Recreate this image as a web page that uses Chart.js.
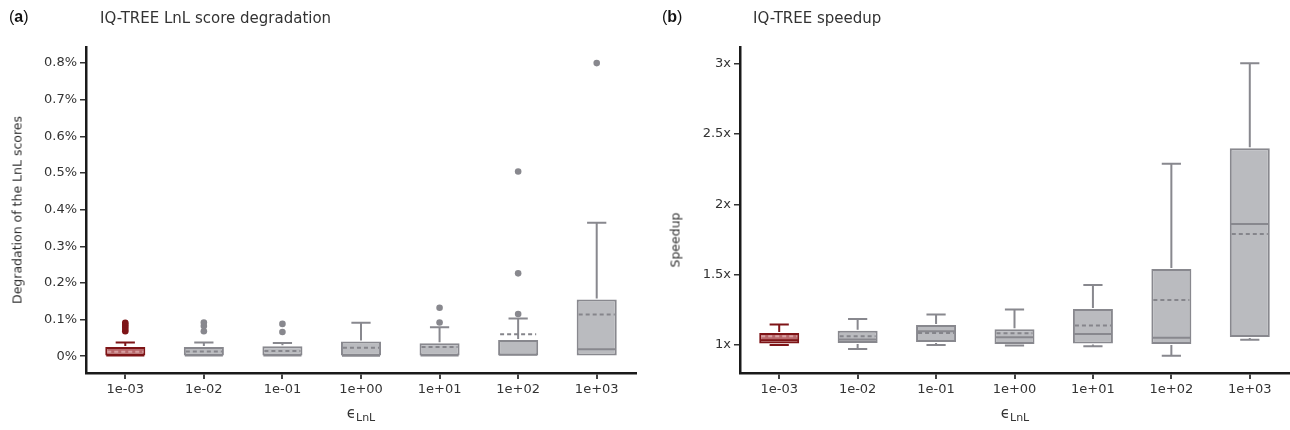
<!DOCTYPE html>
<html>
<head>
<meta charset="utf-8">
<script src="https://cdn.jsdelivr.net/npm/chart.js@4"></script>
<style>
  html, body { margin:0; padding:0; background:#fff; }
  body { width:1290px; height:430px; position:relative; overflow:hidden; font-family:"DejaVu Sans", Verdana, sans-serif; color:#333; }
  canvas { position:absolute; top:0; }
  .t { position:absolute; white-space:nowrap; }
  .panel { font-family:"Liberation Sans", Arial, sans-serif; font-size:16px; color:#111; top:8px; }
  .title { font-size:15px; top:9px; color:#333; }
  .ytitle { font-size:12.5px; transform:translate(-50%,-50%) rotate(-90deg); color:#333; font-weight:normal; }
  .xtitle { font-size:15px; transform:translate(-50%,-50%); color:#333; }
  .xtitle sub { font-size:11px; vertical-align:-3px; }
</style>
</head>
<body>
<canvas id="ca" width="645" height="430" style="left:0"></canvas>
<canvas id="cb" width="645" height="430" style="left:645px"></canvas>

<div class="t panel" style="left:9px">(<b>a</b>)</div>
<div class="t title" style="left:100px">IQ-TREE LnL score degradation</div>
<div class="t panel" style="left:662px">(<b>b</b>)</div>
<div class="t title" style="left:753px">IQ-TREE speedup</div>
<div class="t ytitle" style="left:17px; top:210px">Degradation of the LnL scores</div>
<div class="t ytitle" style="left:675px; top:240px">Speedup</div>
<div class="t xtitle" style="left:361px; top:414px">ϵ<sub>LnL</sub></div>
<div class="t xtitle" style="left:1015px; top:414px">ϵ<sub>LnL</sub></div>

<script>
// ---------- data ----------
const categories = ['1e-03','1e-02','1e-01','1e+00','1e+01','1e+02','1e+03'];

// Panel (a): degradation of LnL scores, in percent
const degQ1     = [0, 0, 0, 0, 0, 0, 0];
const degMedian = [0.002, 0.002, 0.002, 0.001, 0.002, 0.004, 0.019];
const degQ3     = [0.025, 0.025, 0.027, 0.040, 0.035, 0.044, 0.155];
const degMean   = [0.012, 0.013, 0.014, 0.023, 0.025, 0.060, 0.114];
const degLow    = [0, 0, 0, 0, 0, 0, 0];
const degHigh   = [0.037, 0.037, 0.036, 0.091, 0.079, 0.103, 0.364];
const degOutliers = [
  [0.068, 0.074, 0.080, 0.086, 0.091],
  [0.068, 0.082, 0.092],
  [0.066, 0.088],
  [],
  [0.092, 0.132],
  [0.115, 0.226, 0.504],
  [0.800]
];
const degTicks = [0, 0.1, 0.2, 0.3, 0.4, 0.5, 0.6, 0.7, 0.8];
const degTickLabels = ['0%', '0.1%', '0.2%', '0.3%', '0.4%', '0.5%', '0.6%', '0.7%', '0.8%'];

// Panel (b): speedup
const spQ1     = [1.010, 1.014, 1.020, 1.007, 1.010, 1.007, 1.057];
const spMedian = [1.033, 1.038, 1.097, 1.055, 1.078, 1.050, 1.860];
const spQ3     = [1.085, 1.100, 1.142, 1.112, 1.256, 1.541, 2.400];
const spMean   = [1.062, 1.062, 1.085, 1.083, 1.138, 1.320, 1.789];
const spLow    = [1.000, 0.970, 1.000, 0.996, 0.990, 0.922, 1.036];
const spHigh   = [1.145, 1.185, 1.217, 1.252, 1.427, 2.289, 3.004];
const spTicks = [1, 1.5, 2, 2.5, 3];
const spTickLabels = ['1x', '1.5x', '2x', '2.5x', '3x'];

// ---------- styles ----------
const RED_BORDER = '#7e1417', RED_FILL = '#b8686b';
const GREY_BORDER = '#88888e', GREY_FILL = '#babbbf';
const borderFor = i => i === 0 ? RED_BORDER : GREY_BORDER;
const fillFor = i => i === 0 ? RED_FILL : GREY_FILL;
const FONT = '"DejaVu Sans", Verdana, sans-serif';

function boxPlugin(stats) {
  return {
    id: 'boxExtras',
    afterDatasetsDraw(chart) {
      const xs = chart.scales.x, ys = chart.scales.y;
      const meta = chart.getDatasetMeta(0);
      const ctx = chart.ctx;
      ctx.save();
      categories.forEach((c, i) => {
        const bar = meta.data[i];
        const x = xs.getPixelForValue(i);
        const hw = bar.width / 2;
        const cap = hw * 0.48;
        const col = borderFor(i);
        const yq1 = ys.getPixelForValue(stats.q1[i]);
        const yq3 = ys.getPixelForValue(stats.q3[i]);
        const ylo = ys.getPixelForValue(stats.low[i]);
        const yhi = ys.getPixelForValue(stats.high[i]);
        ctx.strokeStyle = col;
        ctx.lineWidth = 2;
        ctx.setLineDash([]);
        if (stats.high[i] > stats.q3[i]) {
          ctx.beginPath();
          ctx.moveTo(x, yq3 - 1); ctx.lineTo(x, yhi);
          ctx.moveTo(x - cap, yhi); ctx.lineTo(x + cap, yhi);
          ctx.stroke();
        }
        if (stats.low[i] < stats.q1[i]) {
          ctx.beginPath();
          ctx.moveTo(x, yq1 + 1); ctx.lineTo(x, ylo);
          ctx.moveTo(x - cap, ylo); ctx.lineTo(x + cap, ylo);
          ctx.stroke();
        }
        const ym = ys.getPixelForValue(stats.median[i]);
        ctx.beginPath();
        ctx.moveTo(x - hw + 1, ym); ctx.lineTo(x + hw - 1, ym);
        ctx.stroke();
        const ymean = ys.getPixelForValue(stats.mean[i]);
        ctx.setLineDash([4, 3]);
        ctx.strokeStyle = i === 0 ? '#d9a0a2' : '#85858b';
        ctx.beginPath();
        ctx.moveTo(x - hw + 2, ymean); ctx.lineTo(x + hw - 2, ymean);
        ctx.stroke();
        ctx.setLineDash([]);
      });
      ctx.restore();
    }
  };
}

function makeChart(id, opts) {
  const outlierPoints = [];
  (opts.outliers || []).forEach((arr, i) => arr.forEach(v => outlierPoints.push({x: categories[i], y: v})));
  const datasets = [{
    type: 'bar',
    data: categories.map((c, i) => [opts.q1[i], opts.q3[i]]),
    backgroundColor: categories.map((c, i) => fillFor(i)),
    borderColor: categories.map((c, i) => borderFor(i)),
    borderWidth: 2,
    borderSkipped: false,
    categoryPercentage: 1,
    barPercentage: 0.51,
    order: 2
  }];
  if (outlierPoints.length) {
    datasets.push({
      type: 'scatter',
      data: outlierPoints,
      pointRadius: 3.3,
      pointHoverRadius: 3.3,
      borderWidth: 0,
      backgroundColor: ctx => (ctx.raw && ctx.raw.x === categories[0]) ? RED_BORDER : GREY_BORDER,
      order: 1
    });
  }
  return new Chart(document.getElementById(id), {
    data: { labels: categories, datasets },
    plugins: [boxPlugin(opts)],
    options: {
      responsive: false,
      animation: false,
      events: [],
      layout: { padding: { top: 47, right: opts.padRight, left: 0, bottom: 0 } },
      plugins: { legend: { display: false }, tooltip: { enabled: false }, title: { display: false } },
      scales: {
        x: {
          type: 'category',
          offset: true,
          grid: { offset: false, drawOnChartArea: false, drawTicks: true, tickLength: 6, color: '#444', lineWidth: 2 },
          border: { display: true, color: '#1a1a1a', width: 2.5 },
          ticks: { color: '#333', font: { family: FONT, size: 13 }, padding: 3, maxRotation: 0 },
          afterFit: s => { s.height = 57; }
        },
        y: {
          type: 'linear',
          min: opts.min, max: opts.max,
          afterBuildTicks: s => { s.ticks = opts.ticks.map(v => ({ value: v })); },
          grid: { drawOnChartArea: false, drawTicks: true, tickLength: 6, color: '#333', lineWidth: 1.5 },
          border: { display: true, color: '#1a1a1a', width: 2.5 },
          ticks: {
            color: '#333', font: { family: FONT, size: 13 }, padding: 3,
            callback: (v) => { const k = opts.ticks.findIndex(t => Math.abs(t - v) < 1e-9); return k >= 0 ? opts.tickLabels[k] : ''; }
          },
          afterFit: s => { s.width = opts.yWidth; }
        }
      }
    }
  });
}

makeChart('ca', {
  q1: degQ1, q3: degQ3, median: degMedian, mean: degMean, low: degLow, high: degHigh,
  outliers: degOutliers, ticks: degTicks, tickLabels: degTickLabels,
  min: -0.046, max: 0.844, yWidth: 86, padRight: 9
});
makeChart('cb', {
  q1: spQ1, q3: spQ3, median: spMedian, mean: spMean, low: spLow, high: spHigh,
  outliers: [], ticks: spTicks, tickLabels: spTickLabels,
  min: 0.80, max: 3.12, yWidth: 95, padRight: 1
});
</script>
</body>
</html>
